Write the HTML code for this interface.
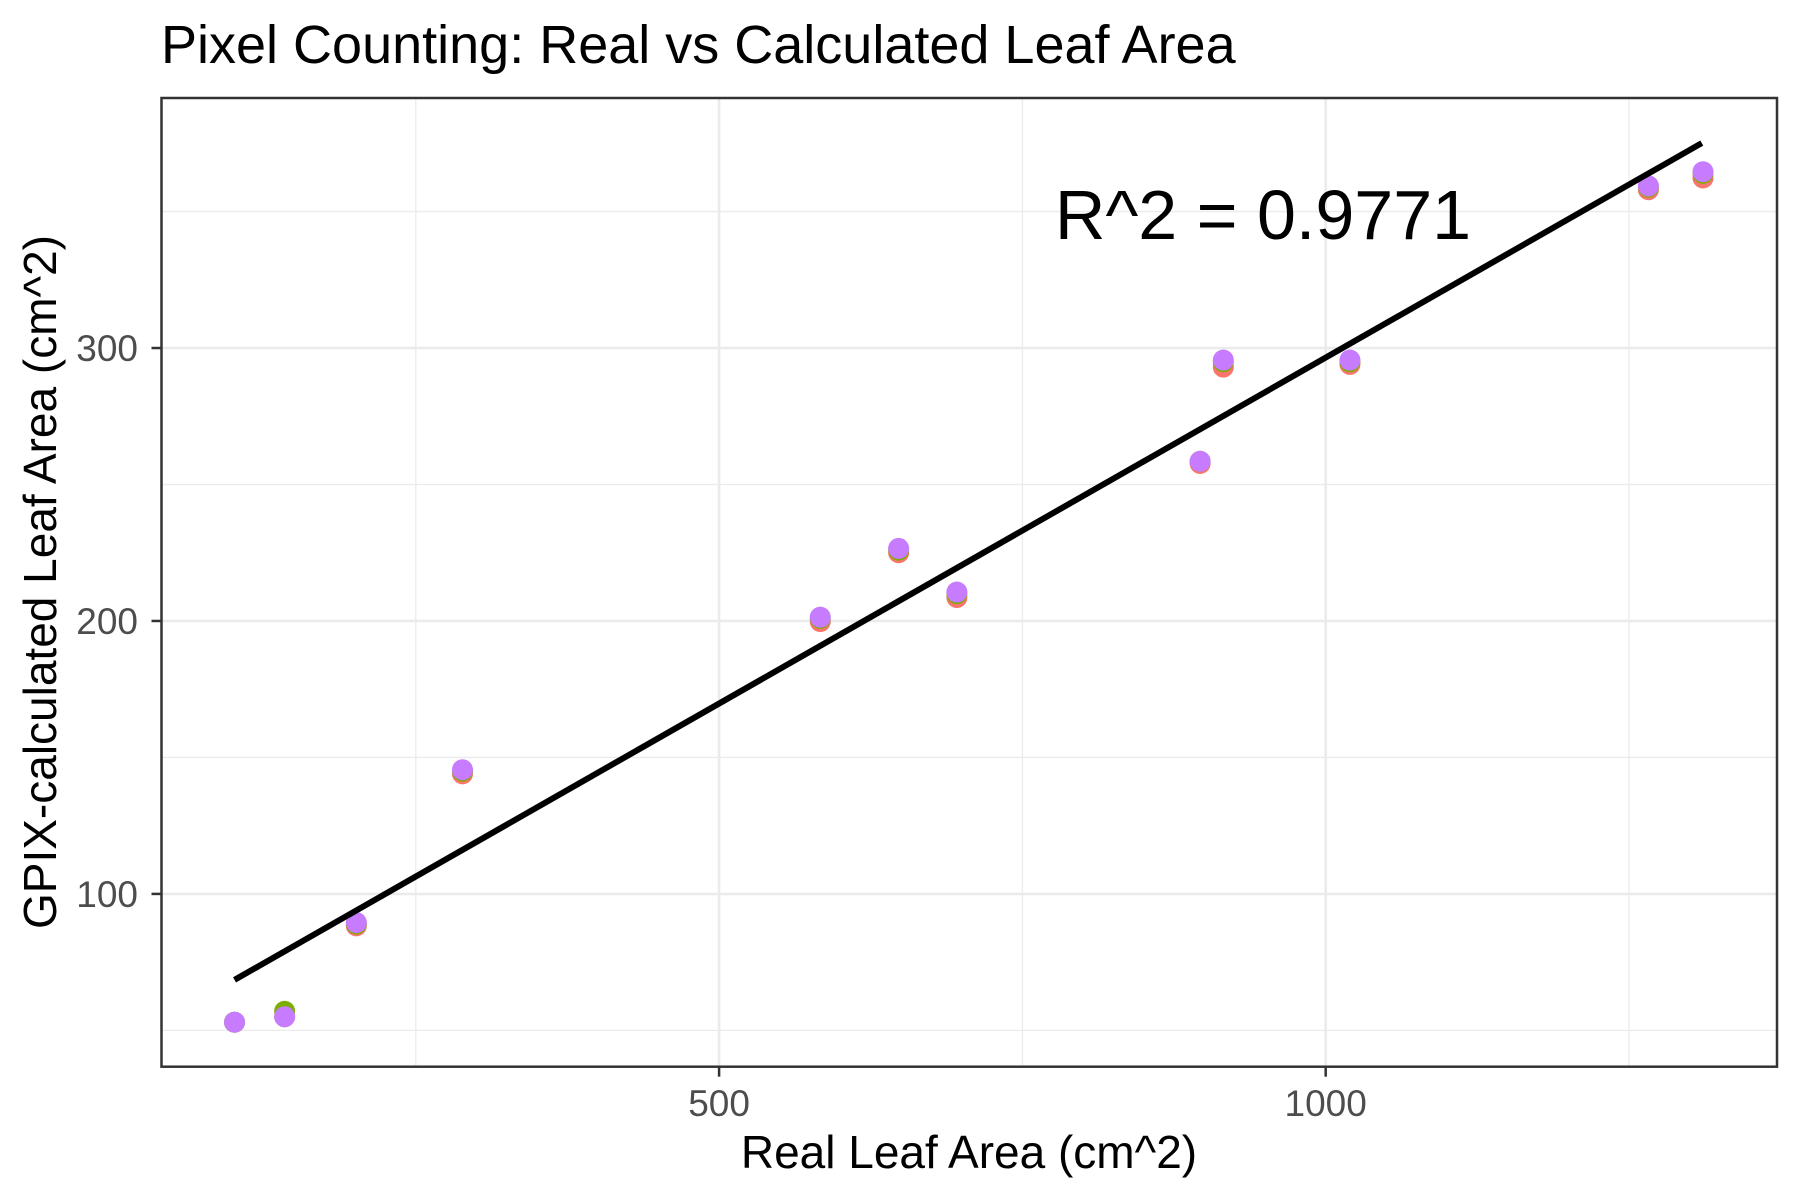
<!DOCTYPE html>
<html><head><meta charset="utf-8"><style>
html,body{margin:0;padding:0;background:#fff;}
svg{display:block;font-family:"Liberation Sans",sans-serif;}
</style></head><body>
<svg id="chart" width="1800" height="1200" viewBox="0 0 1800 1200">
<text x="161" y="63" font-size="54" fill="#000">Pixel Counting: Real vs Calculated Leaf Area</text>
<g id="grid"></g>
<g id="marks"></g>
<rect x="161.5" y="98" width="1615.5" height="968.7" fill="none" stroke="#333" stroke-width="2.5"/>
<g id="axes"></g>
<text x="1263" y="239" font-size="70" text-anchor="middle" fill="#000">R^2 = 0.9771</text>
<text x="969" y="1168" font-size="46" text-anchor="middle" fill="#000">Real Leaf Area (cm^2)</text>
<text transform="translate(56,582) rotate(-90)" font-size="46" text-anchor="middle" fill="#000">GPIX-calculated Leaf Area (cm^2)</text>
</svg>
<script>
const realArea = [100.6, 141.9, 201, 288.5, 583.4, 648, 696, 896.5, 915.6, 1020, 1266, 1311];
const gpixRed = [53, 55, 88.3, 144, 199.8, 225, 208.6, 257.7, 293, 294, 358, 362.3];
const gpixGreen = [53, 57, 89, 145, 201, 226, 210, 258.5, 295, 295, 359, 364];
const gpixPurple = [53, 55, 89.5, 145.5, 201.4, 226.6, 210.6, 258.5, 295.6, 295.6, 359.4, 364.6];
const xTicks = [500, 1000];
const xMinor = [250, 750, 1250];
const yTicks = [100, 200, 300];
const yMinor = [50, 150, 250, 350];
const fitSlope = 0.2535;
const fitIntercept = 43;
const fitRange = [100.6, 1310];

const NS = "http://www.w3.org/2000/svg";
const L = 161.5, R = 1777, T = 98, B = 1066.7;
const xMin = 40.4, xMax = 1372, yMin = 36.7, yMax = 391.6;
const sx = v => L + (v - xMin) / (xMax - xMin) * (R - L);
const sy = v => B - (v - yMin) / (yMax - yMin) * (B - T);
function mk(tag, attrs, parent) {
  const e = document.createElementNS(NS, tag);
  for (const k in attrs) e.setAttribute(k, attrs[k]);
  parent.appendChild(e);
  return e;
}
const grid = document.getElementById('grid'), marks = document.getElementById('marks'), axes = document.getElementById('axes');
xMinor.forEach(v => { const e = mk('line', {x1: sx(v), x2: sx(v), y1: T, y2: B, stroke: '#ebebeb', 'stroke-width': 1.3}, grid);
  
   });
yMinor.forEach(v => { const e = mk('line', {x1: L, x2: R, y1: sy(v), y2: sy(v), stroke: '#ebebeb', 'stroke-width': 1.3}, grid);
  
   });
xTicks.forEach(v => {
  const e = mk('line', {x1: sx(v), x2: sx(v), y1: T, y2: B, stroke: '#ebebeb', 'stroke-width': 2.6}, grid);
  
  
  const t = mk('line', {x1: sx(v), x2: sx(v), y1: B, y2: B + 10, stroke: '#333', 'stroke-width': 2.5}, axes);
  
  
  const lb = mk('text', {x: sx(v), y: 1116, 'font-size': 37, fill: '#4d4d4d', 'text-anchor': 'middle'}, axes);
  lb.textContent = v;
  
  
});
yTicks.forEach(v => {
  const e = mk('line', {x1: L, x2: R, y1: sy(v), y2: sy(v), stroke: '#ebebeb', 'stroke-width': 2.6}, grid);
  
  
  const t = mk('line', {x1: L - 10, x2: L, y1: sy(v), y2: sy(v), stroke: '#333', 'stroke-width': 2.5}, axes);
  
  
  const lb = mk('text', {x: 138, y: sy(v) + 13, 'font-size': 37, fill: '#4d4d4d', 'text-anchor': 'end'}, axes);
  lb.textContent = v;
  
  
});
[[gpixRed, '#F8766D', 'point-red'], [gpixGreen, '#7CAE00', 'point-green'], [gpixPurple, '#C77CFF', 'point-purple']].forEach(([ys, col, nm]) => {
  realArea.forEach((x, i) => {
    const c = mk('circle', {cx: sx(x), cy: sy(ys[i]), r: 10.5, fill: col}, marks);
    
    
  });
});
const fit = mk('line', {x1: sx(fitRange[0]), y1: sy(fitIntercept + fitSlope * fitRange[0]), x2: sx(fitRange[1]), y2: sy(fitIntercept + fitSlope * fitRange[1]), stroke: '#000', 'stroke-width': 6}, marks);


</script>
</body></html>
